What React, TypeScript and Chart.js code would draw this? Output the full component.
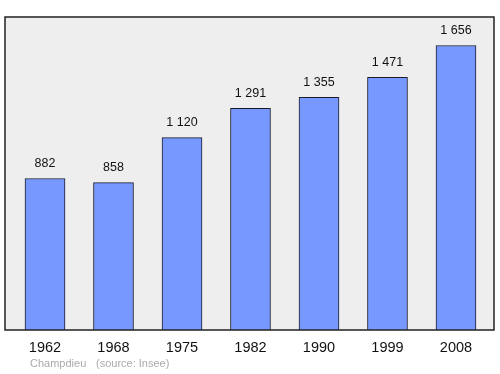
import React, { useEffect, useRef } from "react";
import { Chart, registerables } from "chart.js";

Chart.register(...registerables);

const years = ["1962", "1968", "1975", "1982", "1990", "1999", "2008"];
const population = [882, 858, 1120, 1291, 1355, 1471, 1656];
const footerPlace = "Champdieu";
const footerSource = "(source: Insee)";

const fmt = (v: number) => String(v).replace(/\B(?=(\d{3})+(?!\d))/g, " ");

export default function App() {
  const ref = useRef<HTMLCanvasElement | null>(null);
  useEffect(() => {
    document.body.style.margin = "0";
    const canvas = ref.current!;
    const bgPlugin = {
      id: "bgPlugin",
      beforeDraw(chart: any) {
        const { ctx, chartArea: a } = chart;
        ctx.save();
        ctx.fillStyle = "#eeeeee";
        ctx.fillRect(a.left, a.top, a.right - a.left, a.bottom - a.top);
        ctx.restore();
      },
      afterDraw(chart: any) {
        const { ctx, chartArea: a } = chart;
        ctx.save();
        ctx.strokeStyle = "#222222";
        ctx.lineWidth = 1.5;
        ctx.strokeRect(a.left, a.top, a.right - a.left, a.bottom - a.top);
        // value labels
        const meta = chart.getDatasetMeta(0);
        ctx.fillStyle = "#111111";
        ctx.font = "12.5px 'Liberation Sans', Arial, sans-serif";
        ctx.textAlign = "center";
        ctx.textBaseline = "middle";
        meta.data.forEach((el: any, i: number) => {
          ctx.fillText(fmt(population[i]), el.x, el.y - 15);
        });
        // footer
        ctx.fillStyle = "#aaaaaa";
        ctx.font = "11px 'Liberation Sans', Arial, sans-serif";
        ctx.textAlign = "left";
        ctx.fillText(footerPlace, 30, 364);
        ctx.fillText(footerSource, 96, 364);
        ctx.restore();
      },
    };
    const chart = new Chart(canvas, {
      type: "bar",
      data: {
        datasets: [
          {
            data: population.map((v, i) => ({ x: i, y: v })),
            backgroundColor: "#7799ff",
            borderColor: "#1a1a2a",
            borderWidth: 1,
            barThickness: 40,
          },
        ],
      },
      options: {
        responsive: false,
        animation: false,
        layout: { padding: { top: 17, left: 5, right: 6, bottom: 0 } },
        plugins: { legend: { display: false }, tooltip: { enabled: false } },
        scales: {
          x: {
            type: "linear",
            offset: false,
            min: -0.584,
            max: 6.555,
            grid: { display: false, drawTicks: false, offset: false },
            border: { display: false },
            afterBuildTicks(scale: any) {
              scale.ticks = years.map((_, i) => ({ value: i }));
            },
            afterFit(scale: any) {
              scale.height = 44;
            },
            ticks: {
              padding: 9,
              color: "#111111",
              font: { size: 14.5, family: "'Liberation Sans', Arial, sans-serif" },
              callback: (v: any) => years[v as number] ?? "",
              autoSkip: false,
              maxRotation: 0,
            },
          },
          y: {
            display: false,
            min: 0,
            max: 1822,
          },
        },
      },
      plugins: [bgPlugin],
    } as any);
    return () => chart.destroy();
  }, []);
  return (
    <div style={{ width: 500, height: 374 }}>
      <canvas ref={ref} width={500} height={374} />
    </div>
  );
}
